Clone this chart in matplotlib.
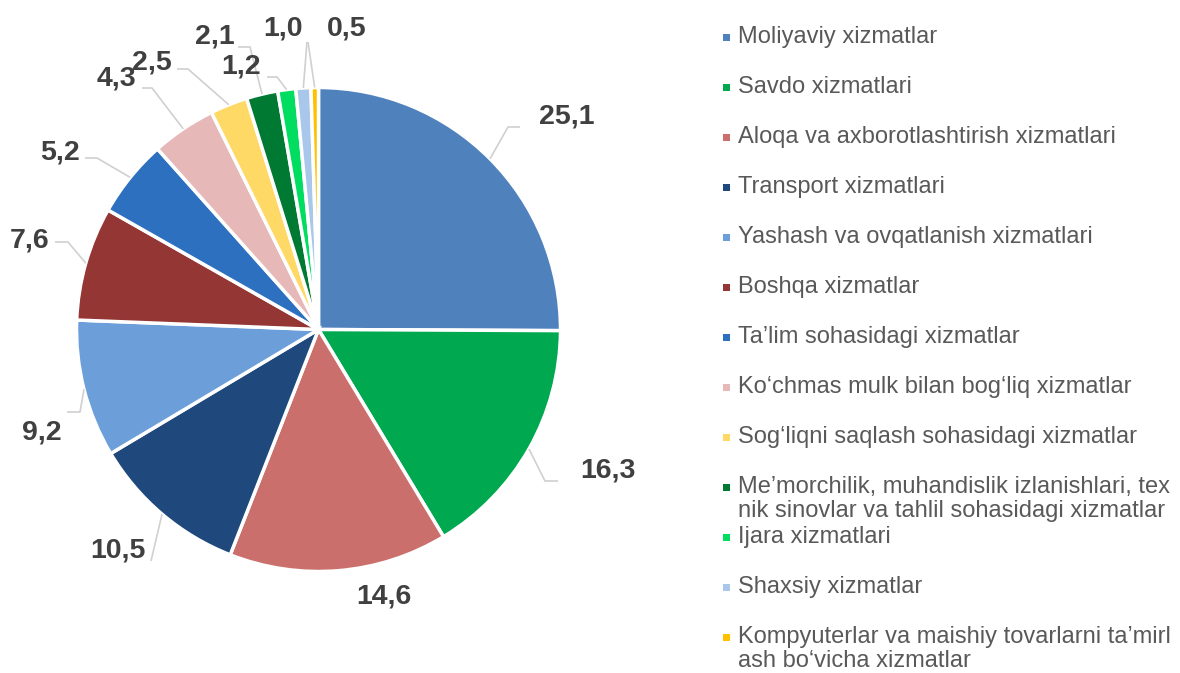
import matplotlib
matplotlib.use("Agg")
import matplotlib.pyplot as plt
from matplotlib.patches import Rectangle
import numpy as np

plt.rcParams['font.family'] = ['Liberation Sans', 'DejaVu Sans']

# ---------------- data ----------------
categories = [
    "Moliyaviy xizmatlar",
    "Savdo xizmatlari",
    "Aloqa va axborotlashtirish xizmatlari",
    "Transport xizmatlari",
    "Yashash va ovqatlanish xizmatlari",
    "Boshqa xizmatlar",
    "Ta\u2019lim sohasidagi xizmatlar",
    "Ko\u2018chmas mulk bilan bog\u2018liq xizmatlar",
    "Sog\u2018liqni saqlash sohasidagi xizmatlar",
    "Me\u2019morchilik, muhandislik izlanishlari, tex\nnik sinovlar va tahlil sohasidagi xizmatlar",
    "Ijara xizmatlari",
    "Shaxsiy xizmatlar",
    "Kompyuterlar va maishiy tovarlarni ta\u2019mirl\nash bo\u2018vicha xizmatlar",
]
values = [25.1, 16.3, 14.6, 10.5, 9.2, 7.6, 5.2, 4.3, 2.5, 2.1, 1.2, 1.0, 0.5]
value_labels = ["25,1", "16,3", "14,6", "10,5", "9,2", "7,6", "5,2",
                "4,3", "2,5", "2,1", "1,2", "1,0", "0,5"]
colors = ["#4F81BD", "#00A84F", "#CB6F6C", "#1F497D", "#6C9FD9", "#943634",
          "#2E70C0", "#E6B8B7", "#FFD966", "#007A33", "#00DD60", "#A9C7EA",
          "#FFC000"]

# ---------------- layout (pixels) ----------------
W, H = 1180, 673
CX, CY, R = 318.5, 329.5, 242.0
# label centre, leader end (near label), leader elbow  (None = no leader)
label_layout = [
    ((567, 116), (520, 127), (508, 127)),
    ((608, 471), (558, 481), (545, 481)),
    ((384, 596), None, None),
    ((118, 551), (151, 561), None),
    ((42, 432), (67, 412), (80, 412)),
    ((30, 240), (55, 242), (68, 242)),
    ((60, 153), (85, 158), (97, 158)),
    ((116, 79), (142, 88), (152, 88)),
    ((152, 62), (177, 69), (188, 69)),
    ((215, 37), (238, 47), (250, 47)),
    ((241, 67), (267, 77), (277, 77)),
    ((283, 28), (307, 42), None),
    ((347, 28), (308, 42), None),
]

fig = plt.figure(figsize=(W / 100, H / 100), dpi=100)
fig.patch.set_facecolor("white")

half = 300.0
ax = fig.add_axes([(CX - half) / W, (H - CY - half) / H, 2 * half / W, 2 * half / H])
wedges, _ = ax.pie(values, colors=colors, startangle=90, counterclock=False,
                   radius=1.0, wedgeprops=dict(edgecolor="white", linewidth=2.5))
lim = half / R
ax.set_xlim(-lim, lim)
ax.set_ylim(-lim, lim)
ax.set_aspect("equal")
ax.axis("off")


def px2d(p):
    return ((p[0] - CX) / R, (CY - p[1]) / R)


for w, lab, (lc, lend, lelb) in zip(wedges, value_labels, label_layout):
    ang = np.deg2rad((w.theta1 + w.theta2) / 2)
    start = (np.cos(ang) * 1.0, np.sin(ang) * 1.0)
    if lend is not None:
        pts = [start]
        if lelb is not None:
            pts.append(px2d(lelb))
        pts.append(px2d(lend))
        xs, ys = zip(*pts)
        ax.plot(xs, ys, color="#D0D0D0", lw=1.2, solid_capstyle="butt", zorder=1)
    x, y = px2d(lc)
    ax.text(x, y, lab, ha="center", va="center", fontsize=20.5,
            fontweight="bold", color="#404040", zorder=5)

# ---------------- legend ----------------
lg = fig.add_axes([0, 0, 1, 1])
lg.set_xlim(0, W)
lg.set_ylim(H, 0)
lg.axis("off")
y0, step, lstep = 37.0, 50.0, 24.0
for i, (cat, col) in enumerate(zip(categories, colors)):
    yi = y0 + i * step
    lg.add_patch(Rectangle((723, yi - 3.5), 7, 7, facecolor=col, edgecolor="none"))
    for k, line in enumerate(cat.split("\n")):
        lg.text(738, yi + k * lstep, line, ha="left", va="center",
                fontsize=17, color="#595959")

fig.savefig("out.png", dpi=100, facecolor="white")
